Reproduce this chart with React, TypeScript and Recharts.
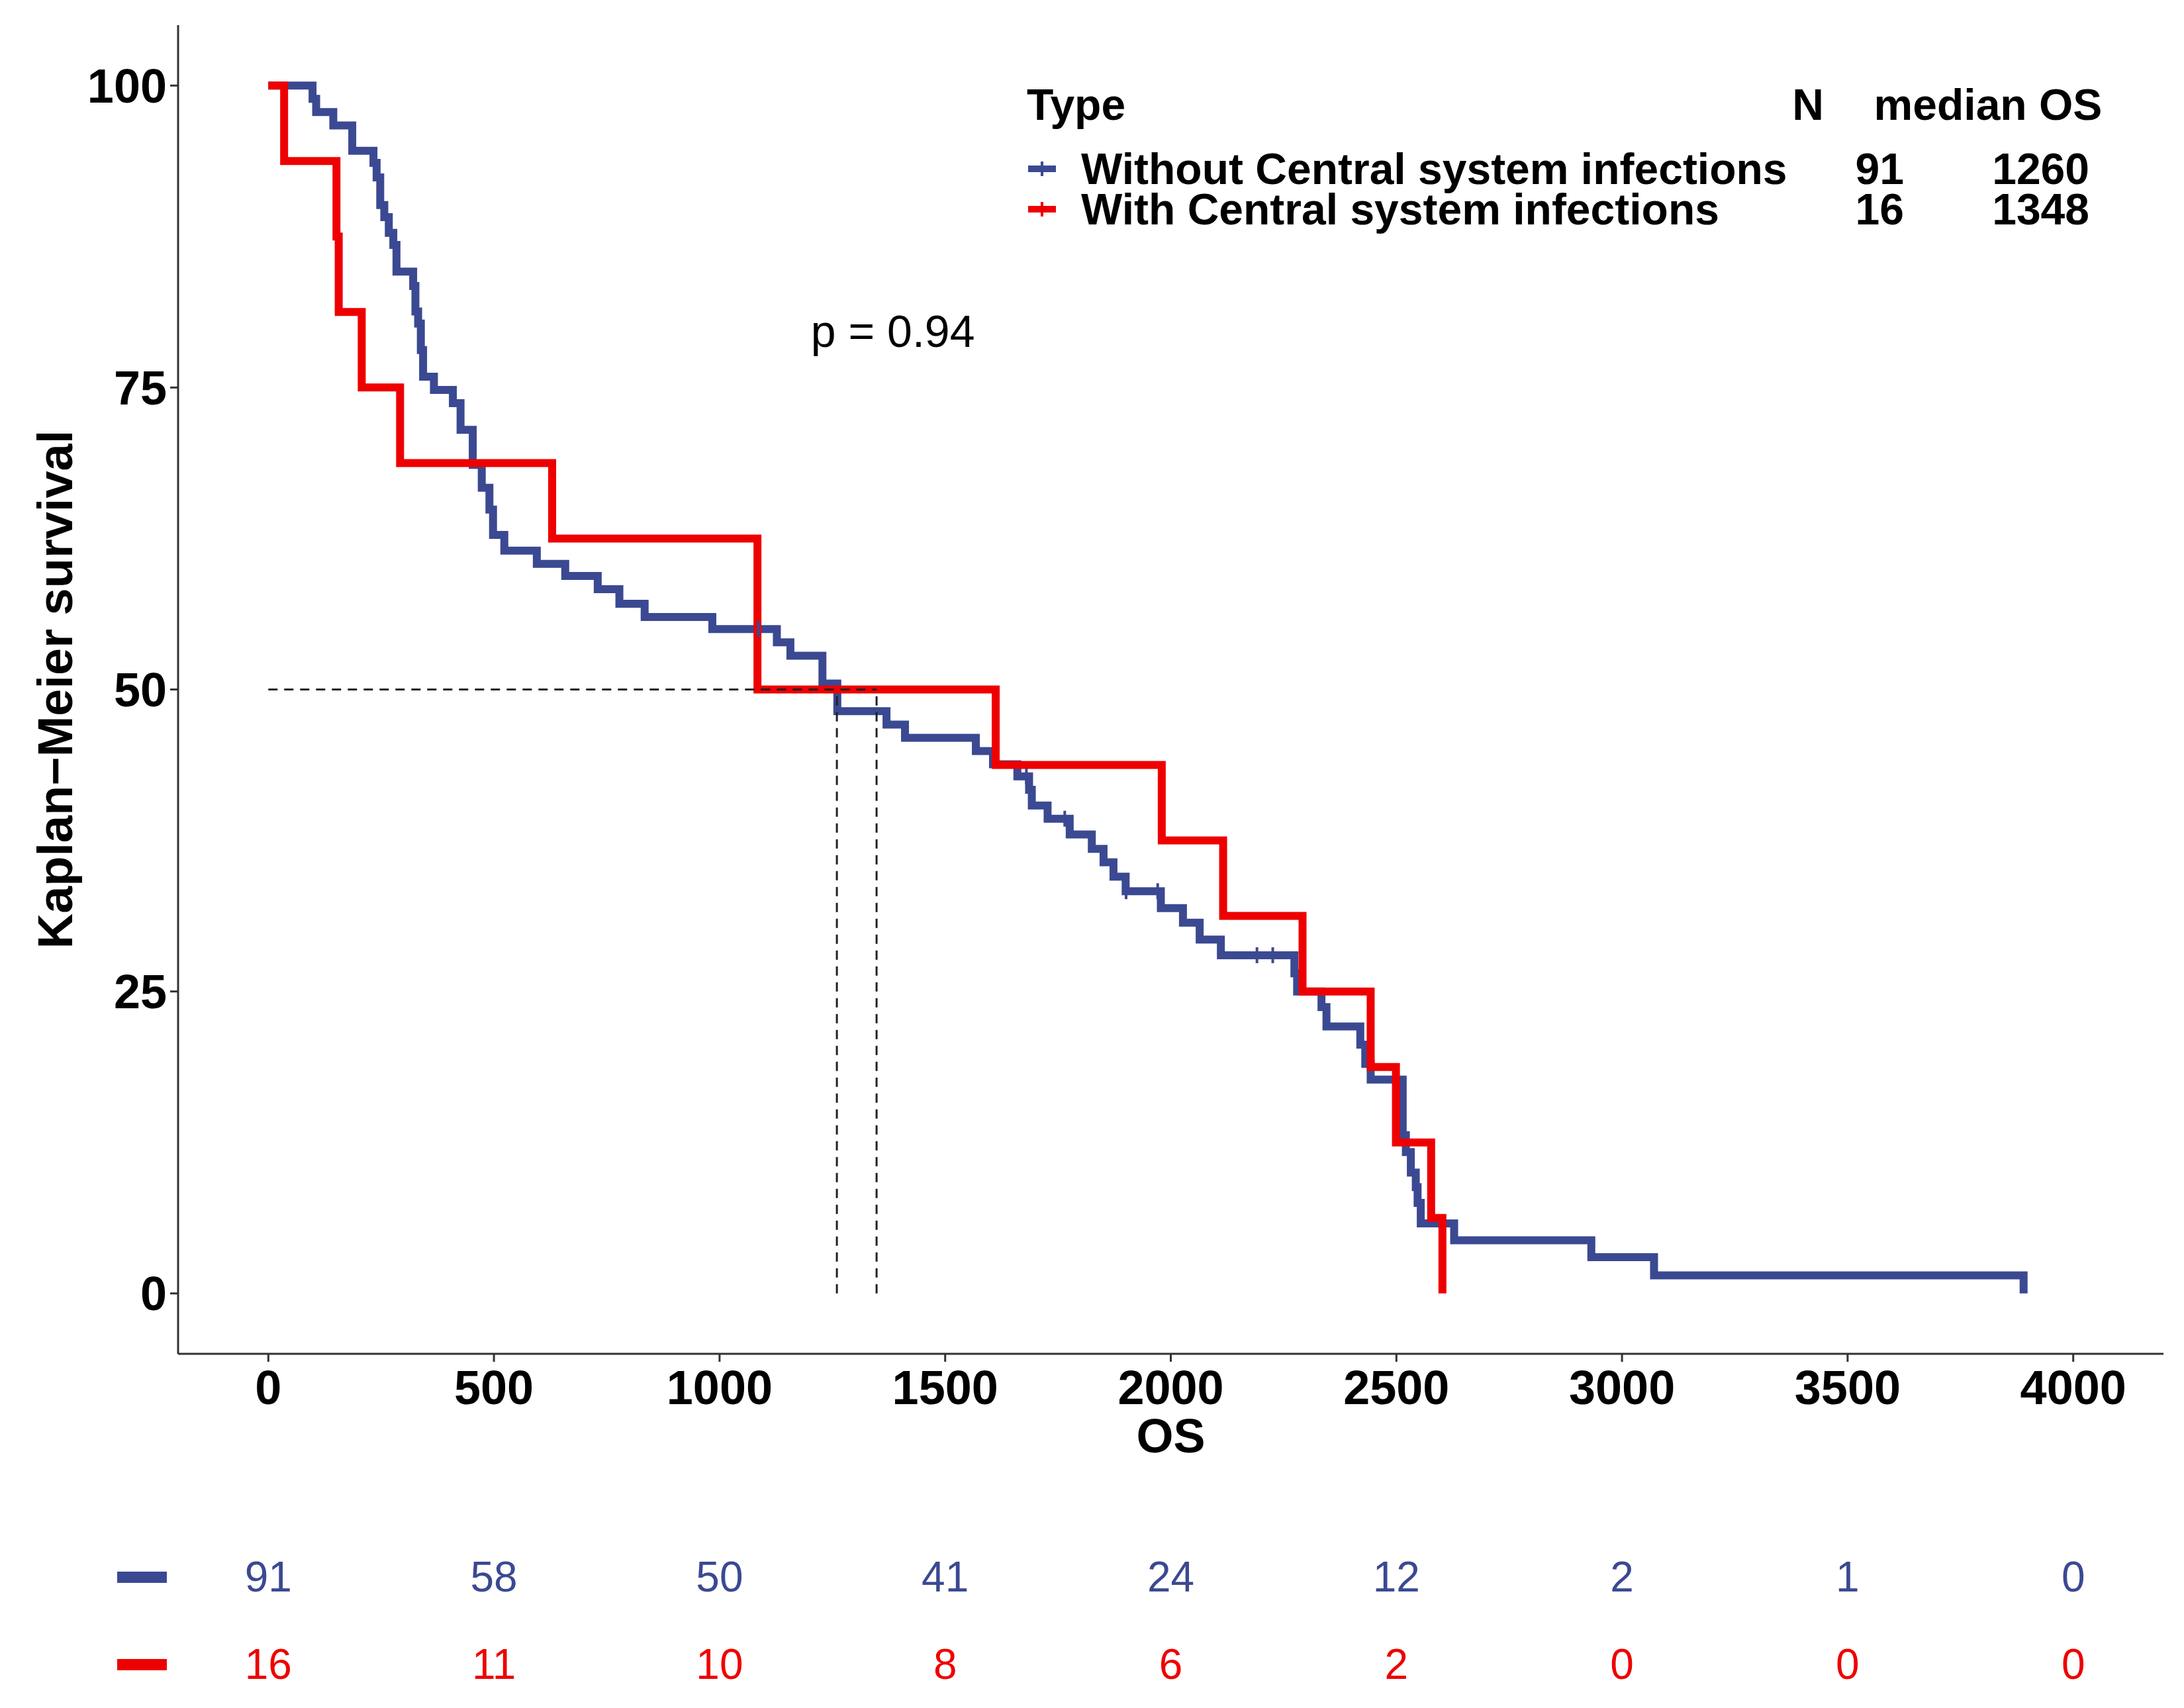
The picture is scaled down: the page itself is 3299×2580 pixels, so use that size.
import React from 'react';
import {
  ComposedChart,
  ScatterChart,
  Line,
  Scatter,
  XAxis,
  YAxis,
  ReferenceLine,
  ReferenceDot,
  Label,
} from 'recharts';

const BLUE = '#3B4992';
const RED = '#EE0000';
const FONT = '"Liberation Sans", Arial, Helvetica, sans-serif';

// axis ticks
const xTicks = [0, 500, 1000, 1500, 2000, 2500, 3000, 3500, 4000];
const yTicks = [0, 25, 50, 75, 100];

// Kaplan-Meier steps
const withoutTimes = [
  0, 98, 106, 144, 186, 233, 240, 248, 257, 267, 277, 284, 321, 326, 332, 338, 343, 367, 409, 426,
  453, 473, 490, 498, 523, 595, 658, 730, 778, 834, 984, 1127, 1157, 1228, 1261, 1370, 1411, 1568,
  1606, 1660, 1686, 1692, 1727, 1776, 1825, 1851, 1873, 1900, 1978, 2027, 2064, 2111, 2274, 2280,
  2334, 2345, 2420, 2431, 2443, 2514, 2521, 2532, 2543, 2547, 2554, 2628, 2932, 3071, 3890,
];
const withoutSurv = [
  100, 98.9, 97.8, 96.7, 94.6, 93.6, 92.4, 90.1, 89.1, 87.8, 86.8, 84.6, 83.4, 81.3, 80.3, 78.1, 75.9,
  74.8, 73.7, 71.5, 68.6, 66.7, 64.9, 62.8, 61.5, 60.4, 59.4, 58.3, 57.1, 56.0, 55.0, 53.9, 52.8, 50.5,
  48.2, 47.1, 46.0, 44.9, 43.8, 42.8, 41.7, 40.4, 39.3, 38.0, 36.8, 35.7, 34.5, 33.3, 31.9, 30.7, 29.3,
  28.0, 26.5, 25.0, 23.7, 22.1, 20.6, 19.0, 17.7, 13.1, 11.7, 10.0, 8.8, 7.5, 5.8, 4.4, 3.0, 1.5, 0,
];
const withTimes = [0, 35, 151, 156, 207, 292, 629, 1084, 1612, 1980, 2116, 2292, 2443, 2499, 2577, 2602];
const withSurv = [
  100, 93.75, 87.5, 81.25, 75, 68.75, 62.5, 50, 43.75, 37.5, 31.25, 25, 18.75, 12.5, 6.25, 0,
];

// censoring marks on the blue curve
const censorTimes = [1086, 1680, 1765, 1901, 1971, 2191, 2226];
const censorSurv = [55.0, 42.8, 39.3, 33.3, 33.3, 28.0, 28.0];

// legend
const groupNames = ['Without Central system infections', 'With Central system infections'];
const groupN = [91, 16];
const groupMedian = [1260, 1348];
const groupColors = [BLUE, RED];
const pText = 'p = 0.94';

// number at risk
const riskTimes = [0, 500, 1000, 1500, 2000, 2500, 3000, 3500, 4000];
const withoutRisk = [91, 58, 50, 41, 24, 12, 2, 1, 0];
const withRisk = [16, 11, 10, 8, 6, 2, 0, 0, 0];

const withoutData = withoutTimes.map((t, i) => ({ t, s: withoutSurv[i] }));
const withData = withTimes.map((t, i) => ({ t, s: withSurv[i] }));
const censorData = censorTimes.map((t, i) => ({ t, s: censorSurv[i] }));
const riskData = [
  ...riskTimes.map((t, i) => ({ t, row: 1, n: withoutRisk[i], color: BLUE })),
  ...riskTimes.map((t, i) => ({ t, row: 0, n: withRisk[i], color: RED })),
];

const xDomain = [-200, 4200];
const medianMax = Math.max(...groupMedian);

const CensorMark = (props: any) => {
  const { cx, cy } = props;
  if (cx == null || cy == null) return null;
  return <line x1={cx} x2={cx} y1={cy - 12} y2={cy + 12} stroke={BLUE} strokeWidth={4} />;
};

const RiskNumber = (props: any) => {
  const { cx, cy, payload } = props;
  return (
    <text
      x={cx}
      y={cy}
      textAnchor="middle"
      dominantBaseline="central"
      fill={payload.color}
      fontSize={64}
      fontFamily={FONT}
    >
      {payload.n}
    </text>
  );
};

const RiskKey = (props: any) => {
  const { y, payload } = props;
  return <rect x={177} y={y - 8} width={75} height={17} fill={payload.value === 1 ? BLUE : RED} />;
};

const tickStyle = { fontSize: 72, fontWeight: 700, fill: '#000', fontFamily: FONT };

export default function App() {
  return (
    <div style={{ position: 'absolute', left: 0, top: 0, width: 3299, height: 2580, background: '#fff' }}>
      <div style={{ position: 'absolute', left: 0, top: 0 }}>
        <ComposedChart width={3299} height={2240} margin={{ top: 38, right: 31, bottom: 0, left: 0 }}>
          <XAxis
            type="number"
            dataKey="t"
            domain={xDomain}
            ticks={xTicks}
            allowDataOverflow
            height={195}
            tickSize={12}
            tickMargin={13}
            tick={tickStyle}
            stroke="#333"
            strokeWidth={3}
          >
            <Label
              content={(p: any) => {
                const vb = p.viewBox;
                return (
                  <text
                    x={vb.x + vb.width / 2}
                    y={vb.y + 149}
                    textAnchor="middle"
                    fontSize={72}
                    fontWeight={700}
                    fontFamily={FONT}
                    fill="#000"
                  >
                    OS
                  </text>
                );
              }}
            />
          </XAxis>
          <YAxis
            type="number"
            domain={[-5, 105]}
            ticks={yTicks}
            allowDataOverflow
            width={269}
            tickSize={12}
            tickMargin={5}
            tick={tickStyle}
            stroke="#333"
            strokeWidth={3}
          >
            <Label
              content={(p: any) => {
                const vb = p.viewBox;
                const cy = vb.y + vb.height / 2;
                return (
                  <text
                    transform={`translate(109, ${cy}) rotate(-90)`}
                    textAnchor="middle"
                    fontSize={74}
                    fontWeight={700}
                    fontFamily={FONT}
                    fill="#000"
                  >
                    Kaplan{'\u2212'}Meier survival
                  </text>
                );
              }}
            />
          </YAxis>
          <Line
            data={withoutData}
            dataKey="s"
            type="stepAfter"
            stroke={BLUE}
            strokeWidth={12}
            dot={false}
            activeDot={false}
            isAnimationActive={false}
          />
          <Scatter data={censorData} dataKey="s" shape={CensorMark} isAnimationActive={false} />
          <Line
            data={withData}
            dataKey="s"
            type="stepAfter"
            stroke={RED}
            strokeWidth={12}
            dot={false}
            activeDot={false}
            isAnimationActive={false}
          />
          <ReferenceLine
            segment={[{ x: 0, y: 50 }, { x: medianMax, y: 50 }]}
            stroke="#222"
            strokeWidth={3}
            strokeDasharray="14 10"
          />
          {groupMedian.map((m) => (
            <ReferenceLine
              key={m}
              segment={[{ x: m, y: 0 }, { x: m, y: 50 }]}
              stroke="#222"
              strokeWidth={3}
              strokeDasharray="14 10"
            />
          ))}
          <ReferenceDot
            x={1384}
            y={79.7}
            r={0}
            fill="none"
            stroke="none"
            label={{ value: pText, position: 'center', fontSize: 68, fill: '#000', fontFamily: FONT }}
          />
        </ComposedChart>
      </div>

      <svg style={{ position: 'absolute', left: 0, top: 0 }} width={3299} height={400}>
        <g fontFamily={FONT} fontWeight={700} fontSize={66} fill="#000">
          <text x={1551} y={181}>Type</text>
          <text x={2731} y={181} textAnchor="middle">N</text>
          <text x={3003} y={181} textAnchor="middle">median OS</text>
          {groupNames.map((name, i) => {
            const base = i === 0 ? 278 : 339;
            const mid = base - 23;
            return (
              <g key={name}>
                <line x1={1553} x2={1595} y1={mid} y2={mid} stroke={groupColors[i]} strokeWidth={10} />
                <line x1={1574} x2={1574} y1={mid - 11} y2={mid + 11} stroke={groupColors[i]} strokeWidth={4} />
                <text x={1633} y={base}>{name}</text>
                <text x={2876} y={base} textAnchor="end">{groupN[i]}</text>
                <text x={3156} y={base} textAnchor="end">{groupMedian[i]}</text>
              </g>
            );
          })}
        </g>
      </svg>

      <div style={{ position: 'absolute', left: 0, top: 2316 }}>
        <ScatterChart width={3299} height={264} margin={{ top: 0, right: 31, bottom: 0, left: 0 }}>
          <XAxis type="number" dataKey="t" domain={xDomain} hide />
          <YAxis
            type="number"
            dataKey="row"
            domain={[-0.5, 1.5]}
            ticks={[0, 1]}
            width={269}
            axisLine={false}
            tickLine={false}
            tick={RiskKey}
          />
          <Scatter data={riskData} shape={RiskNumber} isAnimationActive={false} />
        </ScatterChart>
      </div>
    </div>
  );
}
